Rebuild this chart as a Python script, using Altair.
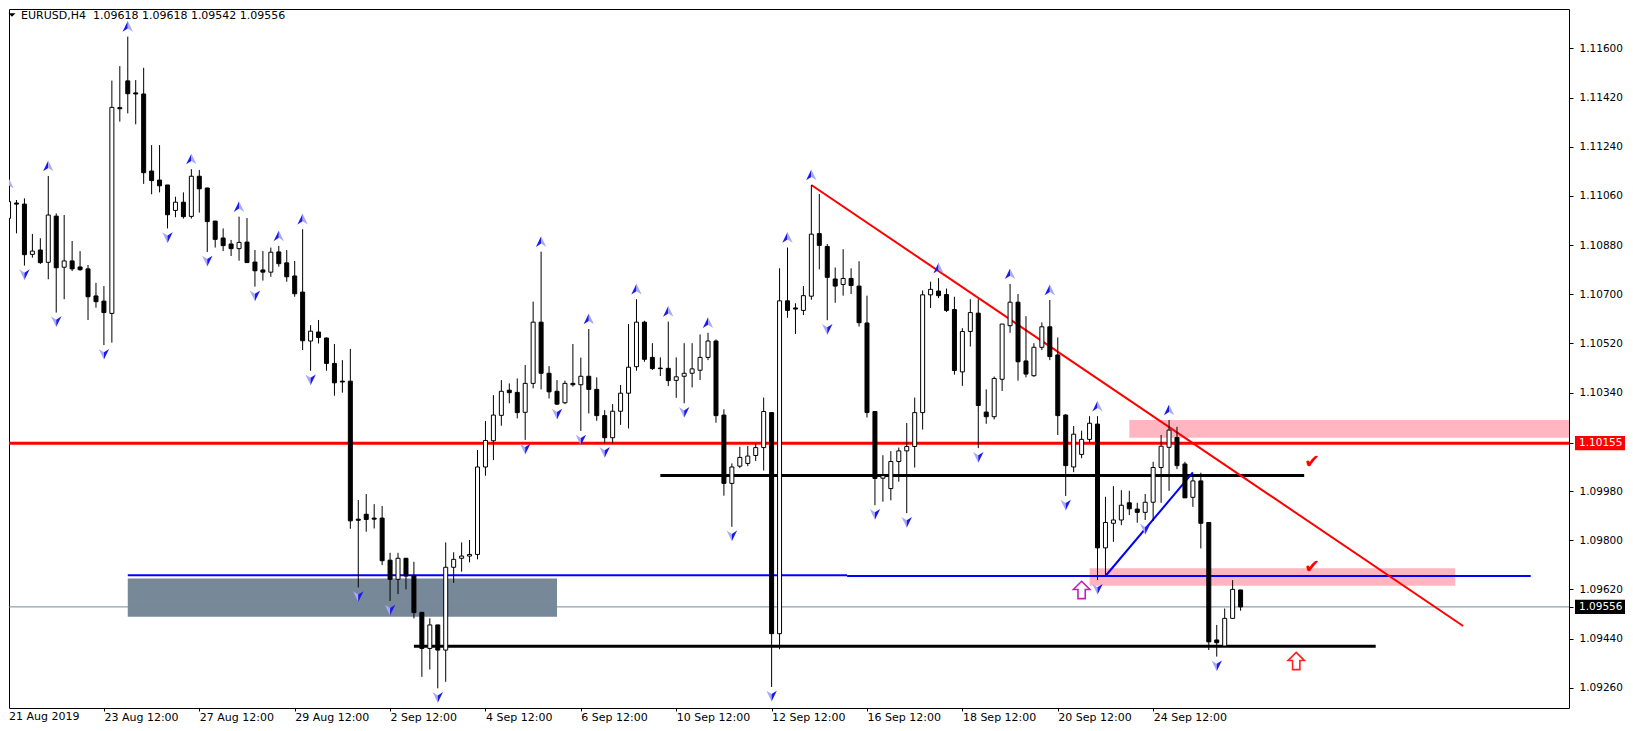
import json
import altair as alt
import pandas as pd

# ---------------- data (EURUSD H4) ----------------
opens = [1.10978,1.11034,1.11030,1.10846,1.10862,1.10817,1.10986,1.10799,1.10822,1.10800,
1.10793,1.10694,1.10675,1.10630,1.11383,1.11481,1.11437,1.11433,1.11151,1.11118,
1.11100,1.11007,1.11037,1.10985,1.11132,1.11089,1.10968,1.10906,1.10884,1.10867,
1.10891,1.10818,1.10789,1.10781,1.10855,1.10815,1.10767,1.10708,1.10529,1.10562,
1.10540,1.10447,1.10382,1.10382,1.09877,1.09895,1.09881,1.09881,1.09727,1.09657,
1.09734,1.09669,1.09536,1.09404,1.09490,1.09398,1.09701,1.09734,1.09742,1.09748,
1.10068,1.10164,1.10257,1.10349,1.10341,1.10268,1.10374,1.10598,1.10411,1.10345,
1.10303,1.10374,1.10369,1.10400,1.10352,1.10256,1.10175,1.10272,1.10338,1.10435,
1.10598,1.10469,1.10430,1.10429,1.10385,1.10400,1.10411,1.10422,1.10469,1.10529,
1.10258,1.10008,1.10071,1.10081,1.10110,1.10139,1.10267,1.09458,1.10676,1.10650,
1.10641,1.10693,1.10922,1.10875,1.10756,1.10736,1.10758,1.10730,1.10595,1.10271,
1.10027,1.09989,1.10088,1.10127,1.10143,1.10267,1.10698,1.10712,1.10699,1.10644,
1.10416,1.10564,1.10631,1.10269,1.10252,1.10389,1.10585,1.10671,1.10456,1.10402,
1.10506,1.10581,1.10478,1.10258,1.10068,1.10114,1.10169,1.10225,1.09772,1.09862,
1.09874,1.09937,1.09914,1.09902,1.09939,1.10066,1.10140,1.10176,1.10079,1.09957,
1.10017,1.09865,1.09435,1.09413,1.09514,1.09618]

highs = [1.11070,1.11045,1.11051,1.10921,1.10905,1.11133,1.10996,1.10990,1.10895,1.10858,
1.10807,1.10742,1.10730,1.11482,1.11535,1.11643,1.11484,1.11529,1.11246,1.11246,
1.11100,1.11057,1.11073,1.11158,1.11155,1.11090,1.10968,1.10941,1.10899,1.10984,
1.10979,1.10862,1.10858,1.10871,1.10877,1.10862,1.10822,1.10938,1.10587,1.10606,
1.10542,1.10518,1.10459,1.10500,1.09947,1.09969,1.09932,1.09925,1.09754,1.09754,
1.09734,1.09721,1.09536,1.09514,1.09490,1.09792,1.09756,1.09792,1.09801,1.10130,
1.10236,1.10331,1.10386,1.10374,1.10392,1.10441,1.10673,1.10856,1.10437,1.10386,
1.10384,1.10518,1.10468,1.10573,1.10396,1.10276,1.10298,1.10368,1.10591,1.10682,
1.10603,1.10521,1.10469,1.10600,1.10469,1.10521,1.10521,1.10553,1.10559,1.10535,
1.10279,1.10081,1.10142,1.10145,1.10155,1.10322,1.10267,1.10795,1.10871,1.10667,
1.10730,1.11100,1.11067,1.10884,1.10798,1.10865,1.10795,1.10821,1.10695,1.10271,
1.10111,1.10126,1.10139,1.10229,1.10322,1.10714,1.10746,1.10759,1.10721,1.10691,
1.10576,1.10682,1.10682,1.10352,1.10399,1.10591,1.10738,1.10701,1.10620,1.10521,
1.10597,1.10679,1.10542,1.10262,1.10218,1.10201,1.10254,1.10254,1.09959,1.09998,
1.09983,1.09981,1.09937,1.09969,1.10087,1.10185,1.10240,1.10215,1.10087,1.10039,
1.10047,1.09865,1.09490,1.09550,1.09654,1.09618]

lows = [1.10941,1.10923,1.10805,1.10834,1.10811,1.10755,1.10633,1.10682,1.10785,1.10786,
1.10606,1.10651,1.10514,1.10523,1.11332,1.11362,1.11322,1.11104,1.11066,1.11073,
1.10941,1.10982,1.10977,1.10977,1.10999,1.10855,1.10871,1.10858,1.10840,1.10823,
1.10816,1.10728,1.10750,1.10764,1.10801,1.10746,1.10691,1.10496,1.10420,1.10520,
1.10420,1.10329,1.10340,1.09842,1.09627,1.09831,1.09843,1.09709,1.09578,1.09603,
1.09620,1.09514,1.09300,1.09327,1.09258,1.09282,1.09644,1.09685,1.09719,1.09730,
1.10036,1.10093,1.10219,1.10301,1.10246,1.10167,1.10356,1.10352,1.10319,1.10295,
1.10298,1.10362,1.10200,1.10264,1.10237,1.10155,1.10155,1.10222,1.10209,1.10420,
1.10453,1.10423,1.10401,1.10364,1.10321,1.10301,1.10359,1.10386,1.10459,1.10230,
1.09963,1.09849,1.10064,1.10071,1.10090,1.10055,1.09263,1.09401,1.10614,1.10555,
1.10624,1.10680,1.10791,1.10605,1.10669,1.10695,1.10701,1.10582,1.10249,1.09928,
1.09941,1.09946,1.10014,1.09899,1.10066,1.10205,1.10650,1.10686,1.10635,1.10406,
1.10365,1.10509,1.10137,1.10226,1.10242,1.10346,1.10559,1.10384,1.10396,1.10398,
1.10496,1.10459,1.10185,1.09962,1.10049,1.10100,1.10157,1.09654,1.09666,1.09794,
1.09855,1.09892,1.09864,1.09874,1.09871,1.09937,1.09981,1.10060,1.09955,1.09922,
1.09770,1.09398,1.09374,1.09413,1.09514,1.09542]

closes = [1.11039,1.11030,1.10845,1.10858,1.10816,1.10990,1.10797,1.10822,1.10793,1.10790,
1.10691,1.10673,1.10633,1.11384,1.11379,1.11434,1.11433,1.11145,1.11116,1.11097,
1.10991,1.11037,1.10984,1.11132,1.11086,1.10966,1.10901,1.10878,1.10867,1.10890,
1.10816,1.10786,1.10781,1.10854,1.10812,1.10764,1.10702,1.10530,1.10565,1.10542,
1.10447,1.10376,1.10379,1.09871,1.09873,1.09876,1.09877,1.09725,1.09657,1.09734,
1.09669,1.09535,1.09404,1.09490,1.09398,1.09701,1.09730,1.09742,1.09748,1.10068,
1.10165,1.10258,1.10345,1.10340,1.10267,1.10374,1.10598,1.10411,1.10343,1.10298,
1.10374,1.10369,1.10400,1.10352,1.10256,1.10175,1.10272,1.10338,1.10433,1.10598,
1.10462,1.10428,1.10428,1.10384,1.10398,1.10411,1.10427,1.10469,1.10529,1.10256,
1.10008,1.10068,1.10103,1.10108,1.10139,1.10271,1.09458,1.10676,1.10641,1.10646,
1.10695,1.10920,1.10879,1.10762,1.10730,1.10758,1.10732,1.10596,1.10267,1.10026,
1.10036,1.10088,1.10127,1.10143,1.10267,1.10698,1.10718,1.10695,1.10641,1.10421,
1.10564,1.10633,1.10293,1.10252,1.10392,1.10591,1.10671,1.10453,1.10408,1.10506,
1.10581,1.10472,1.10256,1.10073,1.10188,1.10169,1.10228,1.09772,1.09865,1.09874,
1.09928,1.09915,1.09902,1.09939,1.10066,1.10144,1.10203,1.10073,1.09955,1.10017,
1.09862,1.09428,1.09425,1.09514,1.09620,1.09556]

up_fractals = [0, 5, 15, 23, 29, 34, 37, 67, 73, 79, 83, 88, 98, 101, 117, 126, 131, 137, 146]
down_fractals = [2, 6, 12, 20, 25, 31, 38, 44, 48, 54, 65, 69, 72, 75, 85, 91, 96, 103, 109,
                 113, 122, 133, 137, 143, 152]

x_tick_bars = [12, 24, 36, 48, 60, 72, 84, 96, 108, 120, 132, 144]
x_tick_labels = ["23 Aug 12:00", "27 Aug 12:00", "29 Aug 12:00", "2 Sep 12:00", "4 Sep 12:00",
                 "6 Sep 12:00", "10 Sep 12:00", "12 Sep 12:00", "16 Sep 12:00", "18 Sep 12:00",
                 "20 Sep 12:00", "24 Sep 12:00"]
first_label = "21 Aug 2019"
price_ticks = [1.0926, 1.0944, 1.0962, 1.0980, 1.0998, 1.1034, 1.1052, 1.1070,
               1.1088, 1.1106, 1.1124, 1.1142, 1.1160]

support_level = 1.10155
bid_price = 1.09556
title_text = "EURUSD,H4\u00a0\u00a01.09618 1.09618 1.09542 1.09556"

# objects drawn on the chart (bar index / price)
seg_x1 = [82, 51, 15, 105.5, 101, 138]
seg_x2 = [163, 172, 105.5, 191.5, 183, 149]
seg_p1 = [1.10037, 1.09412, 1.09672, 1.09669, 1.11100, 1.09669]
seg_p2 = [1.10037, 1.09412, 1.09672, 1.09669, 1.09486, 1.10048]
seg_col = ["#000000", "#000000", "#0000ff", "#0000ff", "#ff0000", "#0000ff"]
seg_w = [3, 3, 2, 2, 2, 2]

zone_x1 = [15, 141, 136]
zone_x2 = [69, 200, 182]
zone_top = [1.09660, 1.10240, 1.09697]
zone_bot = [1.09520, 1.10175, 1.09633]
zone_col = ["#778899", "#ffb6c1", "#ffb6c1"]

check_bar = [164, 164]
check_price = [1.10087, 1.09703]
hollow_bar = [135, 162]
hollow_price = [1.09618, 1.09358]
hollow_col = ["#c020c0", "#ff2020"]

# ---------------- tables ----------------
n = len(opens)
candles = pd.DataFrame({"bar": list(range(n)), "open": opens, "high": highs,
                        "low": lows, "close": closes})
candles["fill"] = ["#ffffff" if c > o else "#000000" for o, c in zip(opens, closes)]

ups = pd.DataFrame({"bar": up_fractals, "p": [highs[i] for i in up_fractals]})
downs = pd.DataFrame({"bar": down_fractals, "p": [lows[i] for i in down_fractals]})
segs = pd.DataFrame({"x1": seg_x1, "x2": seg_x2, "p1": seg_p1, "p2": seg_p2,
                     "col": seg_col, "w": seg_w})
zones = pd.DataFrame({"x1": zone_x1, "x2": zone_x2, "pt": zone_top, "pb": zone_bot,
                      "col": zone_col})
checks = pd.DataFrame({"bar": check_bar, "p": check_price, "t": ["\u2714"] * 2})
hollows = pd.DataFrame({"bar": hollow_bar, "p": hollow_price, "col": hollow_col})
levels = pd.DataFrame({"p": [support_level, bid_price], "col": ["#ff0000", "#778899"],
                       "w": [3, 1]})
boxes = pd.DataFrame({"p": [support_level, bid_price], "bg": ["#ff0000", "#000000"],
                      "label": [f"{support_level:.5f}", f"{bid_price:.5f}"]})
boxes["pt"] = boxes["p"] + 0.00026
boxes["pb"] = boxes["p"] - 0.00026

# ---------------- scales / axes ----------------
W, H = 1560, 699
FONT = "DejaVu Sans"
xscale = alt.Scale(domain=[0.6875, 195.6875], nice=False, zero=False)
yscale = alt.Scale(domain=[1.09186, 1.11744], nice=False, zero=False)

x_axis = alt.Axis(values=x_tick_bars, orient="bottom",
                  labelExpr=json.dumps(x_tick_labels) + "[round(datum.value/12)-1]",
                  labelAlign="left", labelBaseline="top", labelPadding=0, tickSize=3,
                  labelFont=FONT, labelFontSize=11, labelColor="#000000",
                  tickColor="#000000", domain=False, grid=False, labelOverlap=False,
                  labelFlush=False, title=None)
y_values = price_ticks + [support_level, bid_price]
y_axis = alt.Axis(values=y_values, orient="right",
                  labelExpr="(abs(datum.value-1.10155)<1e-7 || abs(datum.value-1.09556)<1e-7) ? '' : format(datum.value, '.5f')",
                  labelAlign="left", labelBaseline="middle", labelPadding=6, tickSize=4,
                  labelFont=FONT, labelFontSize=10.5, labelColor="#000000",
                  tickColor="#000000", domain=False, grid=False, labelOverlap=False,
                  labelFlush=False, title=None)


def X(f):
    return alt.X(f, type="quantitative", scale=xscale, axis=x_axis)


def Y(f):
    return alt.Y(f, type="quantitative", scale=yscale, axis=y_axis)


zone_layer = alt.Chart(zones).mark_rect(clip=True).encode(
    x=X("x1"), x2="x2", y=Y("pt"), y2="pb", color=alt.Color("col:N", scale=None))

level_layer = alt.Chart(levels).mark_rule(clip=True).encode(
    y=Y("p"), color=alt.Color("col:N", scale=None),
    strokeWidth=alt.StrokeWidth("w:Q", scale=None))

seg_layer = alt.Chart(segs).mark_rule(clip=True).encode(
    x=X("x1"), x2="x2", y=Y("p1"), y2="p2", color=alt.Color("col:N", scale=None),
    strokeWidth=alt.StrokeWidth("w:Q", scale=None))

wick_layer = alt.Chart(candles).mark_rule(clip=True, color="#000000", strokeWidth=1).encode(
    x=X("bar"), y=Y("low"), y2="high")

body_layer = alt.Chart(candles).mark_bar(clip=True, size=4, stroke="#000000",
                                         strokeWidth=1).encode(
    x=X("bar"), y=Y("open"), y2="close", fill=alt.Fill("fill:N", scale=None))

UP_L = "M0,-1L-0.95,0.95L0,0.35Z"
UP_R = "M0,-1L0.95,0.95L0,0.35Z"
DN_L = "M0,1L-0.95,-0.95L0,-0.35Z"
DN_R = "M0,1L0.95,-0.95L0,-0.35Z"

up_l = alt.Chart(ups).mark_point(shape=UP_L, filled=True, size=121, opacity=1,
                                 color="#1a1aee", yOffset=-10, clip=True).encode(x=X("bar"), y=Y("p"))
up_r = alt.Chart(ups).mark_point(shape=UP_R, filled=True, size=121, opacity=1,
                                 color="#a9a9f6", yOffset=-10, clip=True).encode(x=X("bar"), y=Y("p"))
dn_l = alt.Chart(downs).mark_point(shape=DN_L, filled=True, size=121, opacity=1,
                                   color="#a9a9f6", yOffset=9, clip=True).encode(x=X("bar"), y=Y("p"))
dn_r = alt.Chart(downs).mark_point(shape=DN_R, filled=True, size=121, opacity=1,
                                   color="#1a1aee", yOffset=9, clip=True).encode(x=X("bar"), y=Y("p"))

BLOCK_UP = "M0,-1L0.95,-0.05L0.42,-0.05L0.42,1L-0.42,1L-0.42,-0.05L-0.95,-0.05Z"
hollow_layer = alt.Chart(hollows).mark_point(shape=BLOCK_UP, filled=False, size=300,
                                             strokeWidth=1.6, opacity=1).encode(
    x=X("bar"), y=Y("p"), color=alt.Color("col:N", scale=None))

check_layer = alt.Chart(checks).mark_text(font=FONT, fontSize=19, color="#ff0000",
                                          align="center", baseline="middle").encode(
    x=X("bar"), y=Y("p"), text="t:N")

title_layer = alt.Chart(pd.DataFrame({"t": [title_text]})).mark_text(
    font=FONT, fontSize=11, color="#000000", align="left", baseline="alphabetic").encode(
    x=alt.value(12), y=alt.value(10), text="t:N")

tri_layer = alt.Chart(pd.DataFrame({"t": [title_text]})).mark_point(
    shape="M-1,-0.5L1,-0.5L0,0.5Z", filled=True, size=49, color="#000000", opacity=1).encode(
    x=alt.value(3), y=alt.value(6))

first_lbl = alt.Chart(pd.DataFrame({"t": [first_label]})).mark_text(
    font=FONT, fontSize=11, color="#000000", align="left", baseline="top").encode(
    x=alt.value(0), y=alt.value(H + 3), text="t:N")

box_layer = alt.Chart(boxes).mark_rect().encode(
    x=alt.value(W + 6), x2=alt.value(W + 60), y=Y("pt"), y2="pb",
    color=alt.Color("bg:N", scale=None))
box_text = alt.Chart(boxes).mark_text(font=FONT, fontSize=10.5, color="#ffffff",
                                      align="left", baseline="middle").encode(
    x=alt.value(W + 10), y=Y("p"), text="label:N")

chart = alt.layer(
    zone_layer, level_layer, seg_layer, wick_layer, body_layer,
    up_l, up_r, dn_l, dn_r, hollow_layer, check_layer,
    title_layer, tri_layer, first_lbl, box_layer, box_text,
).properties(
    width=W, height=H,
    autosize=alt.AutoSizeParams(type="none"),
    padding={"left": 1, "top": 1, "right": 56, "bottom": 15},
    background="#ffffff",
).configure_view(stroke="#000000", strokeWidth=1)

chart.save("out.html", embed_options={"renderer": "svg", "actions": False})
